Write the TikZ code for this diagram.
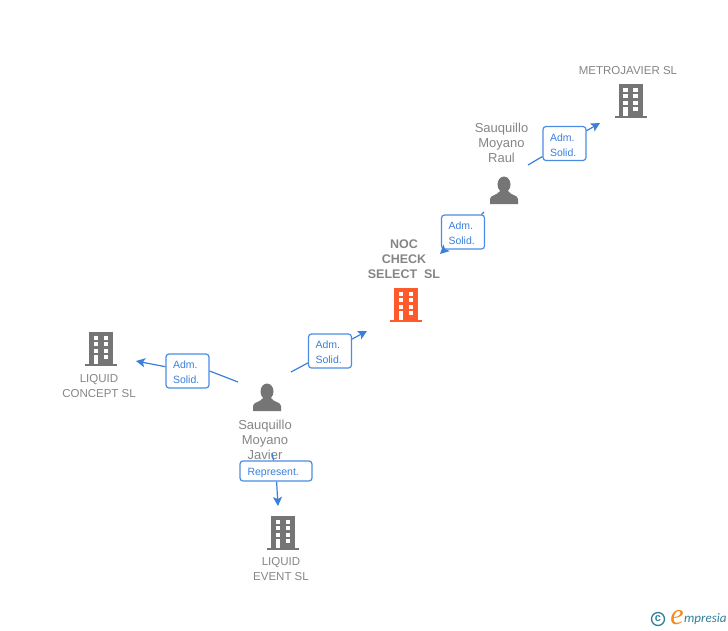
\documentclass[tikz,border=0pt]{standalone}
\usepackage{fontspec}
\setmainfont{Liberation Sans}
\newfontfamily\logofont{Liberation Serif}
\newfontfamily\brandfont{Carlito}
\usepackage{xcolor}
\usetikzlibrary{arrows.meta}
\definecolor{iconGray}{HTML}{757575}
\definecolor{nameGray}{HTML}{858585}
\definecolor{linkBlue}{HTML}{3A7FDB}
\definecolor{boxBlue}{HTML}{4A8CE3}
\definecolor{mainOrange}{HTML}{FF5A2B}
\definecolor{logoTeal}{HTML}{2F7F9B}
\definecolor{logoOrange}{HTML}{F28A1E}
\tikzset{
  caption/.style={text=nameGray, align=center, inner sep=0pt, font=\fontsize{11.5}{15}\selectfont},
  who/.style={caption, font=\fontsize{13}{15}\selectfont},
  linkbox/.style={draw=boxBlue, fill=white, rounded corners=3pt, line width=1.2pt, text=linkBlue,
    inner sep=0pt, align=left, font=\fontsize{10.5}{15}\selectfont,
    execute at begin node=\rule{0pt}{10.6pt}},
  admbox/.style={linkbox, minimum width=43pt, minimum height=34pt, text width=29pt},
  repbox/.style={linkbox, minimum width=72pt, minimum height=20pt, text width=57pt},
  wire/.style={draw=linkBlue, line width=1.2pt},
  tip/.style={wire, -{Stealth[length=9pt,width=9pt,inset=2pt]}},
  pics/building/.style={code={
    \fill[#1] (-12,-16) rectangle (12,16);
    \fill[#1] (-16,15.5) rectangle (16,18);
    \foreach \dy in {-12,-6,0.5,7} {
      \fill[white] (-7.5,\dy) rectangle (-3,\dy+4);
      \fill[white] (2.5,\dy) rectangle (7,\dy+4);
    }
    \fill[white] (-7.5,9) rectangle (-3,16);
  }},
  pics/person/.style={code={
    \fill[iconGray] (0,-5.5) ellipse (6.5 and 8);
    \fill[iconGray] (-14,14) -- (-14,9) .. controls (-14,5) and (-6,5) .. (-4,1) -- (4,1)
      .. controls (6,5) and (14,5) .. (14,9) -- (14,14) -- cycle;
  }},
}
\begin{document}
\begin{tikzpicture}[x=1pt,y=-1pt]
\useasboundingbox (0,0) rectangle (728,630);

\pic at (630.5,100) {building=iconGray};
\pic at (406,304) {building=mainOrange};
\pic at (101,348) {building=iconGray};
\pic at (283,532) {building=iconGray};
\pic at (504,190) {person};
\pic at (267,397) {person};

\node[caption] (metro) at (628,71) {METROJAVIER SL};
\node[who] (raul) at (501.5,143) {Sauquillo\\Moyano\\Raul};
\node[caption, font=\fontsize{12.5}{15}\selectfont\bfseries] (noc) at (404,259.5) {NOC\\CHECK\\SELECT\ \ SL};
\node[caption] (concept) at (99,386) {LIQUID\\CONCEPT SL};
\node[who] (javier) at (265,440) {Sauquillo\\Moyano\\Javier};
\node[caption] (event) at (281,569) {LIQUID\\EVENT SL};

\node[admbox] (admMetro) at (564.5,143.5) {Adm.\\Solid.};
\node[admbox] (admNoc) at (463,232) {Adm.\\Solid.};
\node[admbox] (admJavier) at (330,351) {Adm.\\Solid.};
\node[admbox] (admConcept) at (187.5,371) {Adm.\\Solid.};
\node[repbox] (rep) at (276,471) {Represent.};

\coordinate (raulOut) at (528,165);
\coordinate (metroIn) at (600,123);
\coordinate (raulDown) at (484,212);
\coordinate (nocIn) at (440,254);
\coordinate (javierUp) at (291,372);
\coordinate (nocLow) at (367,331);
\coordinate (javierLeft) at (238,382);
\coordinate (conceptIn) at (136,361);
\coordinate (javierDown) at (272,453);
\coordinate (eventIn) at (278,506);

\draw[wire] (raulOut) -- (admMetro);
\draw[tip] (admMetro) -- (metroIn);
\draw[wire] (raulDown) -- (admNoc);
\draw[tip] (admNoc) -- (nocIn);
\draw[wire] (javierUp) -- (admJavier);
\draw[tip] (admJavier) -- (nocLow);
\draw[wire] (javierLeft) -- (admConcept.east);
\draw[tip] (admConcept) -- (conceptIn);
\draw[wire] (javierDown) -- (rep);
\draw[tip] (rep) -- (eventIn);

\draw[logoTeal, line width=1.3pt] (658,619) circle (6.5);
\node[text=logoTeal, inner sep=0pt, font=\fontsize{11}{11}\selectfont\bfseries] (copy) at (658,618.5) {c};
\node[text=logoOrange, inner sep=0pt, font=\logofont\fontsize{30}{30}\selectfont\itshape] (logoE) at (677,618) {e};
\node[text=logoTeal, inner sep=0pt, anchor=west, font=\brandfont\fontsize{13}{13}\selectfont\itshape] (logoName) at (684,619.5) {mpresia};
\end{tikzpicture}
\end{document}
